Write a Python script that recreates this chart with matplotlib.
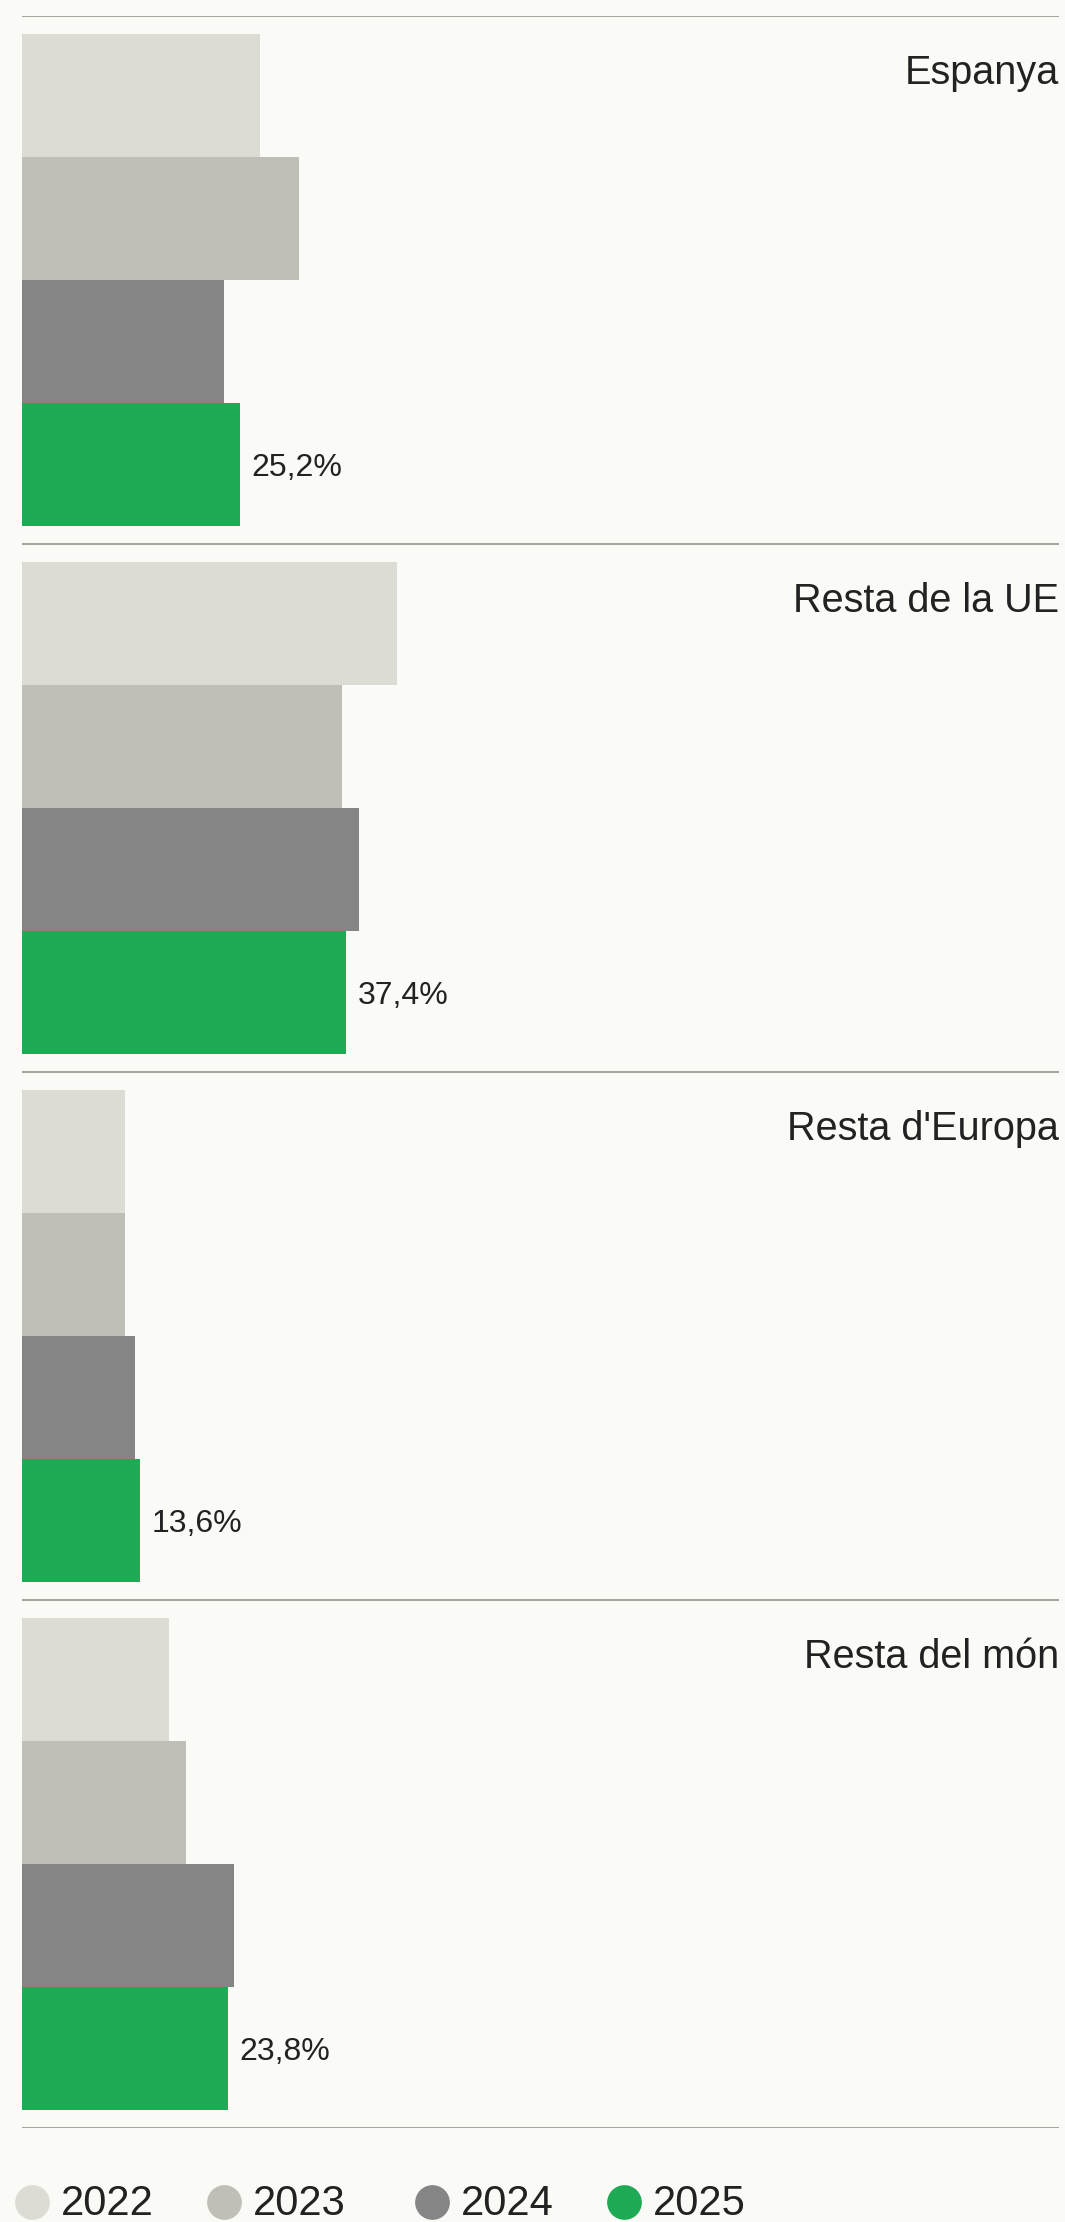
import matplotlib.pyplot as plt
from matplotlib.lines import Line2D

# data (% share by region)
regions = ['Espanya', 'Resta de la UE', "Resta d'Europa", 'Resta del món']
years = ['2022', '2023', '2024', '2025']
v2022 = [27.5, 43.3, 11.9, 16.9]
v2023 = [31.9, 36.9, 11.9, 18.9]
v2024 = [23.3, 38.9, 13.0, 24.4]
v2025 = [25.2, 37.4, 13.6, 23.8]
labels_2025 = ['25,2%', '37,4%', '13,6%', '23,8%']

colors = ['#dcdcd5', '#bfbfb7', '#858585', '#1faa55']
bg = '#fafaf6'
txt = '#222222'
plt.rcParams['font.family'] = ['Liberation Sans', 'DejaVu Sans']

W, H = 1065, 2222
fig = plt.figure(figsize=(W / 100, H / 100), dpi=100, facecolor=bg)
ax = fig.add_axes([22 / W, 1 - 2128 / H, 1037 / W, 2112 / H])
ax.set_facecolor(bg)

panel = 4.3   # 4 bars + padding
pad = 0.15
series = [v2022, v2023, v2024, v2025]
for i, reg in enumerate(regions):
    top = panel * i
    for j, vals in enumerate(series):
        yc = top + pad + j + 0.5
        ax.barh(yc, vals[i], height=1.0, color=colors[j], linewidth=0)
    yc = top + pad + 3.5
    ax.text(v2025[i] + 1.3, yc + 0.10, labels_2025[i], fontsize=23, color=txt,
            ha='left', va='baseline')
    ax.text(119.6, top + 0.55, reg, fontsize=28.5, color=txt, ha='right', va='baseline')

for k in range(len(regions) + 1):
    ax.axhline(panel * k, color='#96968f', lw=1.2)

ax.set_xlim(0, 119.6)
ax.set_ylim(panel * len(regions), 0)
ax.axis('off')

# legend row at the bottom
lg = fig.add_axes([0, 0, 1, 1])
lg.set_xlim(0, W)
lg.set_ylim(H, 0)
lg.axis('off')
dot_x = [32, 224, 432, 624]
for x, c, y in zip(dot_x, colors, years):
    lg.add_line(Line2D([x], [2202], marker='o', markersize=25, color=c, markeredgewidth=0))
    lg.text(x + 29, 2215, y, fontsize=30, color=txt, ha='left', va='baseline')

fig.savefig('out.png', dpi=100, facecolor=bg)
